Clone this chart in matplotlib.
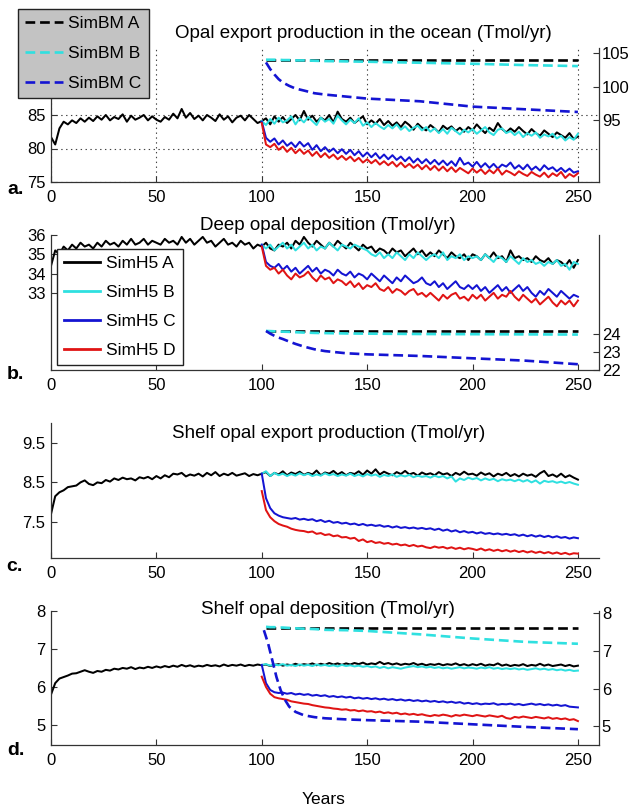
import numpy as np
import matplotlib
matplotlib.use('Agg')
import matplotlib.pyplot as plt

plt.rcParams['font.family'] = ['Liberation Sans', 'DejaVu Sans']
plt.rcParams['lines.scale_dashes'] = False

# ---------------- data ----------------
years_full = np.arange(0, 251, 2)
years_post = np.arange(100, 251, 2)
years_bm = [102, 104, 106, 108, 110, 113, 116, 120, 125, 130, 140, 150, 175, 200, 225, 250]
years_bm_dC = [101, 103, 105, 107, 109, 111, 113, 116, 120, 125, 130, 140, 150, 175, 200, 225, 250]

# Panel a: opal export production (left axis solid, right axis dashed)
a_A = [81.7, 80.6, 83.0, 84.0, 83.6, 84.2,
       83.8, 84.5, 84.0, 84.6, 84.1, 84.8, 84.3, 85.0, 84.2, 84.7,
       84.4, 85.1, 84.0, 84.9, 84.3, 84.6, 85.0, 84.2, 84.8, 84.3,
       84.0, 84.7, 84.3, 85.2, 84.5, 85.9, 84.6, 85.3, 84.4, 84.9,
       84.2, 85.0, 84.6, 84.1, 85.1, 84.3, 84.8, 83.9, 84.6, 84.9,
       84.2, 85.0, 84.4, 83.8, 84.1,
       84.5, 83.6, 84.8, 84.0, 84.7, 83.8, 84.4, 85.0, 84.2, 85.6,
       84.3, 84.9, 84.0, 84.6, 84.2, 85.0, 83.9, 85.5, 84.4, 84.0,
       84.6, 83.8, 84.3, 84.8, 83.6, 84.2, 83.7, 84.4, 83.5, 84.1,
       83.4, 83.9, 83.2, 84.0, 83.5, 82.8, 83.7, 83.1, 82.7, 83.5,
       83.0, 82.4, 83.4, 82.9, 83.3, 82.6, 83.1, 82.5, 83.2, 82.7,
       83.6, 82.9, 82.3, 83.1, 82.6, 83.8, 82.9, 82.4, 83.0, 82.5,
       83.2, 82.6, 82.1, 82.9, 82.3, 81.9, 82.7, 82.2, 81.7, 82.4,
       82.0, 81.6, 82.3, 81.4, 81.8]
a_B = [84.1, 83.5, 84.4, 83.7, 84.6, 83.9, 84.2, 84.8, 83.6, 84.5,
       83.9, 84.7, 84.1, 83.5, 84.6, 84.0, 84.4, 83.7, 84.9, 84.2,
       83.6, 84.3, 83.8, 84.5, 83.4, 83.9, 83.2, 83.8, 83.3, 82.9,
       83.5, 83.0, 83.6, 82.8, 83.3, 82.6, 83.1, 83.4, 82.7, 83.2,
       82.5, 83.0, 82.3, 82.9, 82.2, 83.1, 82.6, 82.1, 82.8, 82.4,
       82.9, 82.2, 82.7, 83.2, 82.4, 82.0, 82.8, 83.0, 82.3, 82.6,
       82.0, 82.5, 81.7, 82.3, 81.9, 82.4, 81.6, 82.1, 81.8, 82.2,
       81.5, 81.9, 81.2, 81.7, 81.3, 82.2]
a_C = [84.0, 81.6, 81.0, 81.5, 80.6, 81.2, 80.4, 80.9, 80.2, 81.0,
       80.3, 80.8, 79.8, 80.5, 79.6, 80.2, 79.5, 80.0, 79.3, 79.9,
       79.2, 79.8, 79.0, 79.6, 78.8, 79.4, 78.7, 79.3, 78.5, 79.1,
       78.4, 79.0, 78.3, 78.8, 78.1, 78.7, 77.9, 78.5, 77.8, 78.4,
       77.7, 78.3, 77.6, 78.2, 77.5, 78.1, 77.4, 78.6, 77.6, 77.9,
       77.3, 78.0, 77.2, 77.8, 77.1, 77.7, 77.0, 77.6, 77.3, 77.9,
       77.0, 77.5, 76.9, 77.6, 76.8, 77.3, 76.7, 77.5, 76.9, 77.2,
       76.6, 77.1, 76.5, 77.0, 76.4, 76.6]
a_D = [83.8, 80.6, 80.2, 80.7, 79.8, 80.3, 79.5, 80.1, 79.3, 79.9,
       79.2, 79.7, 78.9, 79.5, 78.7, 79.3, 78.6, 79.1, 78.4, 78.9,
       78.3, 78.8, 78.1, 78.6, 77.9, 78.4, 77.8, 78.3, 77.6, 78.1,
       77.5, 78.0, 77.3, 77.9, 77.2, 77.7, 77.1, 77.6, 76.9, 77.5,
       76.8, 77.4, 76.7, 77.3, 76.6, 77.2, 76.5, 77.1, 76.7, 76.3,
       77.0, 76.4, 76.9, 76.2, 76.8, 76.3, 77.0, 76.1, 76.7, 76.4,
       76.0, 76.6, 76.2, 75.9, 76.5, 76.1, 75.8, 76.4, 75.7, 76.3,
       75.9, 76.5, 75.6, 76.2, 75.8, 76.3]
a_bmA = [104.0, 104.0, 104.0, 104.0, 104.0, 104.0, 104.0, 104.0,
         104.0, 104.0, 104.0, 104.0, 104.0, 104.0, 104.0, 104.0]
a_bmB = [104.0, 104.0, 104.0, 104.0, 103.95, 103.95, 103.9, 103.9,
         103.85, 103.8, 103.75, 103.7, 103.55, 103.4, 103.2, 103.05]
a_bmC = [103.6, 102.6, 101.8, 101.1, 100.6, 100.1, 99.7, 99.4,
         99.0, 98.8, 98.5, 98.2, 97.8, 97.0, 96.6, 96.2]

# Panel b: deep opal deposition
b_A = [34.4, 35.2, 35.0, 35.4, 35.2, 35.5,
       35.3, 35.6, 35.4, 35.5, 35.3, 35.6, 35.4, 35.7, 35.5, 35.6,
       35.4, 35.7, 35.5, 35.8, 35.5, 35.6, 35.8, 35.5, 35.7, 35.6,
       35.5, 35.8, 35.6, 35.7, 35.5, 35.9, 35.6, 35.8, 35.5, 35.7,
       35.9, 35.6, 35.7, 35.4, 35.6, 35.8, 35.5, 35.6, 35.4, 35.7,
       35.5, 35.6, 35.3, 35.5, 35.4,
       35.6, 35.3, 35.2, 35.5, 35.4, 35.6, 35.3, 35.7, 35.5, 35.9,
       35.6, 35.4, 35.7, 35.5, 35.3, 35.6, 35.4, 35.7, 35.5, 35.3,
       35.6, 35.4, 35.2, 35.5, 35.3, 35.4, 35.1, 35.3, 35.2, 35.0,
       35.3, 35.1, 35.2, 34.9, 35.1, 35.3, 35.0, 35.2, 34.9, 35.1,
       34.9, 35.2, 35.0, 34.8, 35.1, 34.9, 34.8, 35.0, 34.7, 35.0,
       34.9, 34.7, 35.0, 34.8, 35.1, 34.8, 34.9, 34.6, 35.2, 34.8,
       34.9, 34.7, 34.8, 34.6, 34.9, 34.7, 34.6, 34.8, 34.5, 34.7,
       34.6, 34.4, 34.7, 34.3, 34.7]
b_B = [35.5, 35.3, 35.5, 35.2, 35.4, 35.6, 35.3, 35.5, 35.2, 35.4,
       35.6, 35.3, 35.5, 35.2, 35.4, 35.3, 35.6, 35.4, 35.2, 35.5,
       35.4, 35.3, 35.5, 35.4, 35.3, 35.2, 35.0, 34.9, 35.1, 34.8,
       35.0, 34.8, 35.1, 34.9, 34.7, 35.0, 34.8, 35.1, 34.9, 34.7,
       34.9, 35.0, 34.8, 35.1, 34.7, 34.9, 34.8, 35.0, 34.7, 34.9,
       34.8, 34.9, 34.7, 35.0, 34.8, 34.6, 34.9, 34.8, 34.6, 34.9,
       34.7, 34.5, 34.8, 34.6, 34.7, 34.5, 34.6, 34.4, 34.6, 34.5,
       34.7, 34.4, 34.5, 34.2, 34.6, 34.5]
b_C = [35.5, 34.6, 34.4, 34.3, 34.5, 34.2, 34.4, 34.1, 34.3, 34.0,
       34.2, 34.4, 34.1, 34.3, 34.0, 34.2, 34.1, 33.9, 34.2, 34.0,
       33.9, 34.1, 33.8, 34.0, 33.9, 33.7, 34.0, 33.8, 33.6, 33.9,
       33.7, 33.5, 33.8, 33.6, 33.9, 33.7, 33.5, 33.6, 33.8, 33.5,
       33.4, 33.6, 33.3, 33.5, 33.2, 33.4, 33.6, 33.3, 33.2, 33.4,
       33.2, 33.4, 33.1, 33.3, 33.0, 33.2, 33.4, 33.1, 33.3, 33.0,
       33.2, 33.4, 33.1, 33.3, 33.0, 32.8, 33.1, 32.9, 33.2, 33.0,
       32.8, 33.1, 32.9, 32.7, 32.9, 32.8]
b_D = [35.4, 34.4, 34.2, 34.3, 34.0, 34.2, 33.9, 33.7, 34.0, 33.8,
       33.9, 34.1, 33.8, 33.6, 33.9, 33.7, 33.8, 33.5, 33.7, 33.6,
       33.4, 33.6, 33.3, 33.5, 33.2, 33.4, 33.3, 33.5, 33.2, 33.1,
       33.3, 33.0, 33.2, 33.1, 32.9, 33.1, 33.2, 32.9, 33.0, 32.8,
       33.0, 32.8, 32.6, 32.9, 32.7, 32.9, 33.0, 32.7, 32.8, 32.6,
       32.9, 32.7, 32.9, 32.6, 32.8, 33.0, 32.7, 32.9, 32.8, 33.1,
       32.8, 32.6, 32.9, 32.7, 32.5, 32.7, 32.4, 32.6, 32.8, 32.5,
       32.3, 32.6, 32.4, 32.6, 32.3, 32.6]
b_bmA = [24.17, 24.17, 24.17, 24.17, 24.17, 24.17, 24.17, 24.17,
         24.17, 24.17, 24.17, 24.17, 24.17, 24.17, 24.17, 24.17]
b_bmB = [24.17, 24.16, 24.15, 24.14, 24.13, 24.12, 24.1, 24.08,
         24.06, 24.05, 24.03, 24.02, 24.0, 23.99, 23.98, 23.97]
b_bmC = [24.17, 24.02, 23.9, 23.8, 23.72, 23.58, 23.45, 23.3,
         23.15, 23.05, 22.93, 22.87, 22.78, 22.65, 22.52, 22.32]

# Panel c: shelf opal export production
c_A = [7.70, 8.15, 8.25, 8.30, 8.38, 8.40,
       8.42, 8.50, 8.55, 8.46, 8.43, 8.50, 8.48, 8.56, 8.52, 8.60,
       8.56, 8.62, 8.58, 8.60, 8.55, 8.63, 8.60, 8.64, 8.58, 8.66,
       8.60, 8.68, 8.63, 8.72, 8.70, 8.74, 8.65, 8.70, 8.67, 8.72,
       8.65, 8.74, 8.68, 8.76, 8.66, 8.72, 8.68, 8.74, 8.67, 8.70,
       8.73, 8.66, 8.71, 8.68, 8.72,
       8.76, 8.66, 8.74, 8.70, 8.78, 8.68, 8.75, 8.71, 8.77, 8.69,
       8.74, 8.70, 8.80, 8.68, 8.75, 8.72, 8.79, 8.70, 8.76, 8.68,
       8.74, 8.71, 8.78, 8.69, 8.80, 8.72, 8.83, 8.70, 8.77, 8.72,
       8.68, 8.76, 8.71, 8.79, 8.70, 8.74, 8.67, 8.75, 8.70, 8.73,
       8.68, 8.76, 8.70, 8.73, 8.66, 8.74, 8.69, 8.77, 8.70, 8.72,
       8.67, 8.75, 8.69, 8.73, 8.65, 8.72, 8.68, 8.74, 8.66, 8.71,
       8.65, 8.72, 8.67, 8.70, 8.64, 8.73, 8.79, 8.66, 8.70, 8.64,
       8.72, 8.63, 8.68, 8.62, 8.57]
c_B = [8.72, 8.78, 8.66, 8.74, 8.68, 8.72, 8.66, 8.71, 8.67, 8.73,
       8.68, 8.72, 8.66, 8.70, 8.67, 8.73, 8.68, 8.71, 8.66, 8.70,
       8.67, 8.72, 8.66, 8.70, 8.65, 8.71, 8.67, 8.70, 8.64, 8.69,
       8.66, 8.70, 8.64, 8.68, 8.65, 8.69, 8.63, 8.67, 8.64, 8.66,
       8.62, 8.67, 8.63, 8.66, 8.60, 8.65, 8.52, 8.60, 8.56, 8.62,
       8.58, 8.61, 8.55, 8.60, 8.56, 8.59, 8.53, 8.58, 8.55, 8.57,
       8.53, 8.57, 8.52, 8.56, 8.50, 8.55, 8.47, 8.54, 8.51, 8.53,
       8.49, 8.52, 8.48, 8.51, 8.47, 8.44]
c_C = [8.72, 8.10, 7.85, 7.72, 7.66, 7.62, 7.60, 7.58, 7.60, 7.56,
       7.58, 7.55, 7.57, 7.52, 7.55, 7.50, 7.53, 7.48, 7.50, 7.46,
       7.48, 7.44, 7.46, 7.42, 7.45, 7.41, 7.43, 7.40, 7.42, 7.38,
       7.40, 7.36, 7.39, 7.35, 7.37, 7.34, 7.36, 7.33, 7.35, 7.32,
       7.34, 7.30, 7.33, 7.28, 7.31, 7.26, 7.29, 7.24, 7.27, 7.23,
       7.25, 7.21, 7.24, 7.20, 7.22, 7.19, 7.21, 7.18, 7.20, 7.17,
       7.19, 7.15, 7.18, 7.14, 7.17, 7.13, 7.16, 7.12, 7.15, 7.11,
       7.14, 7.10, 7.12, 7.08, 7.11, 7.09]
c_D = [8.28, 7.80, 7.62, 7.52, 7.45, 7.41, 7.38, 7.33, 7.30, 7.28,
       7.27, 7.24, 7.26, 7.20, 7.22, 7.17, 7.19, 7.14, 7.16, 7.11,
       7.12, 7.08, 7.10, 7.02, 7.06, 6.99, 7.02, 6.97, 6.99, 6.95,
       6.97, 6.93, 6.95, 6.91, 6.93, 6.89, 6.92, 6.88, 6.90, 6.86,
       6.84, 6.88, 6.85, 6.87, 6.83, 6.86, 6.82, 6.85, 6.81, 6.84,
       6.82, 6.79, 6.83, 6.78, 6.81, 6.77, 6.80, 6.76, 6.79, 6.75,
       6.78, 6.74, 6.77, 6.73, 6.76, 6.72, 6.75, 6.71, 6.74, 6.70,
       6.73, 6.69, 6.72, 6.68, 6.71, 6.70]

# Panel d: shelf opal deposition
d_A = [5.80, 6.10, 6.22, 6.26, 6.30, 6.35,
       6.36, 6.40, 6.44, 6.40, 6.37, 6.42, 6.40, 6.45, 6.43, 6.48,
       6.46, 6.50, 6.48, 6.52, 6.47, 6.51, 6.49, 6.53, 6.50, 6.54,
       6.51, 6.55, 6.52, 6.56, 6.53, 6.58, 6.54, 6.57, 6.53, 6.56,
       6.54, 6.58, 6.55, 6.57, 6.54, 6.59, 6.55, 6.58, 6.56, 6.59,
       6.55, 6.58, 6.56, 6.59, 6.57,
       6.59, 6.55, 6.58, 6.60, 6.56, 6.59, 6.57, 6.61, 6.57, 6.60,
       6.58, 6.62, 6.57, 6.61, 6.58, 6.63, 6.59, 6.62, 6.58, 6.62,
       6.59, 6.63, 6.60, 6.64, 6.59, 6.62, 6.60, 6.66, 6.60, 6.63,
       6.59, 6.62, 6.58, 6.61, 6.59, 6.63, 6.58, 6.61, 6.57, 6.60,
       6.58, 6.61, 6.57, 6.60, 6.58, 6.62, 6.57, 6.60, 6.56, 6.60,
       6.57, 6.61, 6.56, 6.59, 6.57, 6.62, 6.56, 6.59, 6.55, 6.58,
       6.56, 6.60, 6.55, 6.58, 6.56, 6.61, 6.56, 6.59, 6.55, 6.57,
       6.59, 6.55, 6.58, 6.54, 6.56]
d_B = [6.58, 6.60, 6.56, 6.59, 6.57, 6.60, 6.56, 6.58, 6.55, 6.59,
       6.56, 6.58, 6.55, 6.59, 6.56, 6.58, 6.55, 6.57, 6.54, 6.58,
       6.55, 6.57, 6.54, 6.56, 6.53, 6.55, 6.52, 6.54, 6.50, 6.53,
       6.49, 6.52, 6.50, 6.48, 6.51, 6.53, 6.55, 6.52, 6.54, 6.51,
       6.53, 6.50, 6.52, 6.49, 6.51, 6.48, 6.50, 6.52, 6.49, 6.51,
       6.50, 6.48, 6.51, 6.49, 6.52, 6.48, 6.50, 6.47, 6.49, 6.47,
       6.49, 6.46, 6.48, 6.45, 6.47, 6.49, 6.46, 6.48, 6.45, 6.47,
       6.44, 6.46, 6.43, 6.45, 6.42, 6.43]
d_C = [6.58, 6.10, 5.92, 5.86, 5.84, 5.85, 5.82, 5.84, 5.80, 5.82,
       5.79, 5.81, 5.77, 5.79, 5.76, 5.78, 5.74, 5.76, 5.73, 5.75,
       5.72, 5.74, 5.70, 5.72, 5.69, 5.71, 5.68, 5.70, 5.67, 5.69,
       5.66, 5.68, 5.65, 5.67, 5.64, 5.66, 5.63, 5.65, 5.62, 5.64,
       5.61, 5.63, 5.60, 5.62, 5.59, 5.61, 5.58, 5.60, 5.56, 5.58,
       5.55, 5.57, 5.54, 5.56, 5.55, 5.57, 5.53, 5.55, 5.54, 5.56,
       5.53, 5.55, 5.52, 5.54, 5.56, 5.53, 5.55, 5.52, 5.54, 5.51,
       5.53, 5.50, 5.52, 5.48, 5.47, 5.46]
d_D = [6.27, 6.00, 5.82, 5.73, 5.70, 5.68, 5.66, 5.62, 5.60, 5.58,
       5.56, 5.55, 5.52, 5.50, 5.48, 5.46, 5.45, 5.43, 5.42, 5.40,
       5.41, 5.38, 5.39, 5.36, 5.38, 5.35, 5.36, 5.33, 5.35, 5.31,
       5.33, 5.30, 5.32, 5.28, 5.30, 5.27, 5.29, 5.26, 5.28, 5.25,
       5.23, 5.26, 5.24, 5.27, 5.25, 5.22, 5.26, 5.24, 5.27, 5.25,
       5.23, 5.26, 5.24, 5.22, 5.25, 5.23, 5.21, 5.24, 5.18, 5.16,
       5.21, 5.19, 5.22, 5.20, 5.18, 5.21, 5.19, 5.17, 5.20, 5.16,
       5.18, 5.15, 5.17, 5.13, 5.15, 5.10]
d_bmA = [7.62, 7.62, 7.62, 7.62, 7.62, 7.62, 7.62, 7.62,
         7.62, 7.62, 7.62, 7.62, 7.62, 7.62, 7.62, 7.62]
d_bmB = [7.64, 7.63, 7.63, 7.62, 7.62, 7.61, 7.60, 7.59,
         7.58, 7.56, 7.55, 7.53, 7.44, 7.33, 7.24, 7.19]
d_bmC = [7.55, 7.20, 6.75, 6.30, 5.95, 5.70, 5.52, 5.38, 5.29,
         5.24, 5.21, 5.18, 5.16, 5.12, 5.05, 4.98, 4.92]

titles = ['Opal export production in the ocean (Tmol/yr)',
          'Deep opal deposition (Tmol/yr)',
          'Shelf opal export production (Tmol/yr)',
          'Shelf opal deposition (Tmol/yr)']
panel_labels = ['a.', 'b.', 'c.', 'd.']
xticks = [0, 50, 100, 150, 200, 250]
bm_labels = ['SimBM A', 'SimBM B', 'SimBM C']
h5_labels = ['SimH5 A', 'SimH5 B', 'SimH5 C', 'SimH5 D']

# ---------------- style ----------------
COL = ['#000000', '#2fe0e0', '#1414d2', '#e01414']
SPINE = '#333333'
W_PX, H_PX = 632, 810
SOLID_LW = 1.45
DASH_LW = 1.9
DASH = (7, 3.5)
FS = 12

fig = plt.figure(figsize=(W_PX / 100, H_PX / 100), dpi=100)


def fx(x):
    return x / W_PX


def fy(y):
    return 1 - y / H_PX


def make_axes(top, bottom):
    return fig.add_axes([fx(51), fy(bottom), fx(599) - fx(51), (bottom - top) / H_PX])


def style_main(ax):
    for s in ['top', 'right']:
        ax.spines[s].set_visible(False)
    for s in ['left', 'bottom']:
        ax.spines[s].set_color(SPINE)
        ax.spines[s].set_linewidth(0.9)
    ax.set_xlim(0, 260)
    ax.set_xticks(xticks)
    ax.tick_params(axis='x', direction='in', length=4, width=0.8, color=SPINE,
                   labelsize=FS, pad=5.5)
    ax.tick_params(axis='y', direction='in', length=4, width=0.8, color=SPINE,
                   labelsize=FS, pad=4)
    ax.patch.set_alpha(0)


def style_twin(tw):
    for s in ['top', 'left', 'bottom']:
        tw.spines[s].set_visible(False)
    tw.spines['right'].set_color(SPINE)
    tw.spines['right'].set_linewidth(0.9)
    tw.tick_params(axis='y', direction='in', length=4, width=0.8, color=SPINE,
                   labelsize=FS, pad=2)


def solid(ax, x, y, c):
    return ax.plot(x, y, color=c, lw=SOLID_LW, solid_joinstyle='round')[0]


def dashed(ax, x, y, c):
    ln, = ax.plot(x, y, color=c, lw=DASH_LW)
    ln.set_dashes(DASH)
    return ln


# ---- Panel a ----
ax_a = make_axes(48, 182)
style_main(ax_a)
ax_a.set_ylim(75, 95)
ax_a.set_yticks([75, 80, 85])
ax_a.grid(True, color='#444444', linestyle=(0, (1, 2.5)), linewidth=0.8)
solid(ax_a, years_full, a_A, COL[0])
solid(ax_a, years_post, a_B, COL[1])
solid(ax_a, years_post, a_C, COL[2])
solid(ax_a, years_post, a_D, COL[3])
tw_a = ax_a.twinx()
style_twin(tw_a)
tw_a.set_ylim(85.75, 105.75)
tw_a.set_yticks([95, 100, 105])
bmA = dashed(tw_a, years_bm, a_bmA, COL[0])
bmB = dashed(tw_a, years_bm, a_bmB, COL[1])
bmC = dashed(tw_a, years_bm, a_bmC, COL[2])

# ---- Panel b ----
ax_b = make_axes(235, 370)
style_main(ax_b)
ax_b.set_ylim(29, 36)
ax_b.set_yticks([33, 34, 35, 36])
hA = solid(ax_b, years_full, b_A, COL[0])
hB = solid(ax_b, years_post, b_B, COL[1])
hC = solid(ax_b, years_post, b_C, COL[2])
hD = solid(ax_b, years_post, b_D, COL[3])
tw_b = ax_b.twinx()
style_twin(tw_b)
tw_b.set_ylim(22, 29.5)
tw_b.set_yticks([22, 23, 24])
dashed(tw_b, years_bm, b_bmA, COL[0])
dashed(tw_b, years_bm, b_bmB, COL[1])
dashed(tw_b, years_bm, b_bmC, COL[2])

# ---- Panel c ----
ax_c = make_axes(423, 558)
style_main(ax_c)
ax_c.set_ylim(6.59, 10.0)
ax_c.set_yticks([7.5, 8.5, 9.5])
solid(ax_c, years_full, c_A, COL[0])
solid(ax_c, years_post, c_B, COL[1])
solid(ax_c, years_post, c_C, COL[2])
solid(ax_c, years_post, c_D, COL[3])

# ---- Panel d ----
ax_d = make_axes(611, 745)
style_main(ax_d)
ax_d.set_ylim(4.47, 8.0)
ax_d.set_yticks([5, 6, 7, 8])
solid(ax_d, years_full, d_A, COL[0])
solid(ax_d, years_post, d_B, COL[1])
solid(ax_d, years_post, d_C, COL[2])
solid(ax_d, years_post, d_D, COL[3])
tw_d = ax_d.twinx()
style_twin(tw_d)
tw_d.set_ylim(4.5, 8.06)
tw_d.set_yticks([5, 6, 7, 8])
dashed(tw_d, years_bm, d_bmA, COL[0])
dashed(tw_d, years_bm, d_bmB, COL[1])
dashed(tw_d, years_bm_dC, d_bmC, COL[2])

# ---- titles, labels ----
title_pos = [(363, 33), (328, 225), (329, 433), (328, 610)]
for t, (x, y) in zip(titles, title_pos):
    fig.text(fx(x), fy(y), t, ha='center', va='center', fontsize=13.5)

label_pos = [(7, 194), (7, 379), (6, 571), (7, 755)]
for t, (x, y) in zip(panel_labels, label_pos):
    fig.text(fx(x), fy(y), t, ha='left', va='baseline', fontsize=14,
             fontweight='bold')

fig.text(fx(324), fy(800), 'Years', ha='center', va='center', fontsize=12.5)

# ---- legends ----
leg_a = fig.legend([bmA, bmB, bmC], bm_labels, loc='upper left',
                   bbox_to_anchor=(fx(18), fy(9)), bbox_transform=fig.transFigure,
                   borderaxespad=0, fancybox=False, framealpha=1,
                   facecolor='#c3c3c3', edgecolor='#222222', fontsize=12.5,
                   handlelength=2.2, handletextpad=0.3, labelspacing=0.85,
                   borderpad=0.4)
leg_a.get_frame().set_linewidth(1.0)

leg_b = fig.legend([hA, hB, hC, hD], h5_labels, loc='upper left',
                   bbox_to_anchor=(fx(57), fy(249)), bbox_transform=fig.transFigure,
                   borderaxespad=0, fancybox=False, framealpha=1,
                   facecolor='white', edgecolor='#222222', fontsize=12.5,
                   handlelength=2.1, handletextpad=0.35, labelspacing=0.8,
                   borderpad=0.4)
leg_b.get_frame().set_linewidth(1.0)
for ln in leg_b.get_lines():
    ln.set_linewidth(2.0)

fig.savefig('out.png', dpi=100)
